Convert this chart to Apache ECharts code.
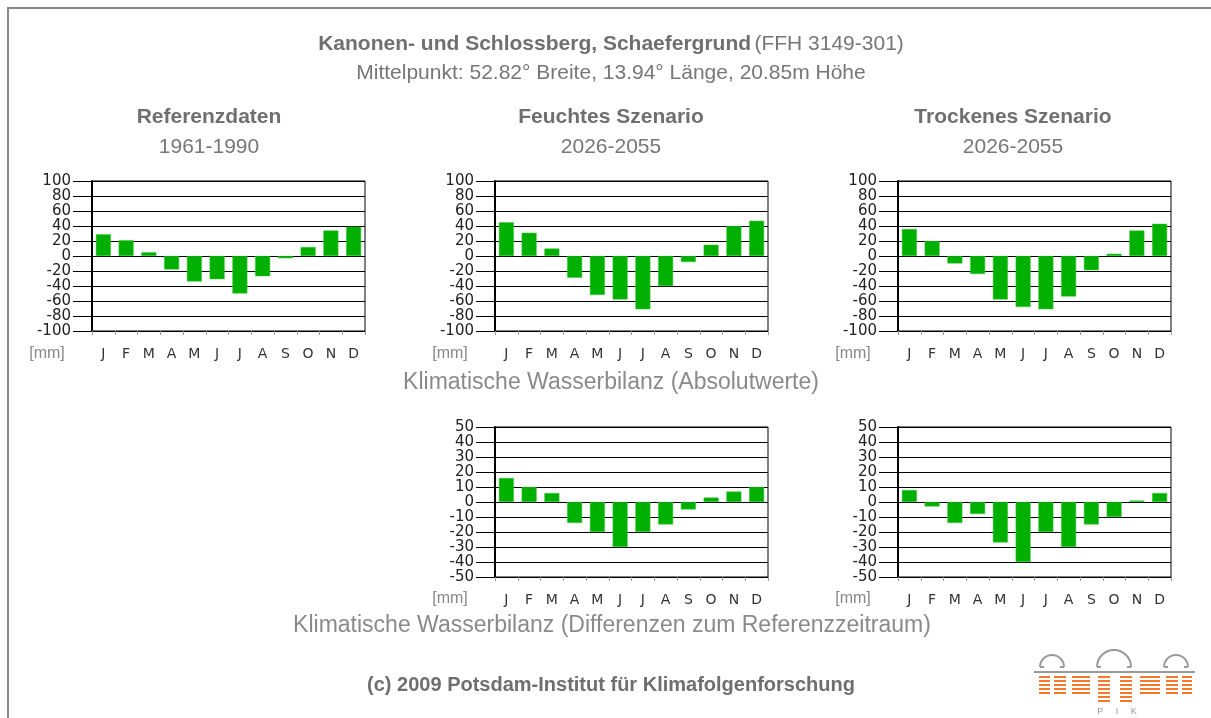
<!DOCTYPE html>
<html><head><meta charset="utf-8">
<script src="https://cdn.jsdelivr.net/npm/echarts@6/dist/echarts.min.js"></script>
<style>html,body{margin:0;padding:0;background:#fff}#c{width:1211px;height:718px}</style>
</head><body><div id="c"></div>
<script>
const months = ['J','F','M','A','M','J','J','A','S','O','N','D'];
const refAbs  = [29, 21, 5, -18, -34, -31, -50, -27, -3, 12, 34, 39];
const wetAbs  = [45, 31, 10, -29, -52, -58, -71, -40, -8, 15, 40, 47];
const dryAbs  = [36, 20, -10, -24, -58, -68, -71, -54, -19, 3, 34, 43];
const wetDiff = [16, 10, 6, -14, -20, -30, -20, -15, -5, 3, 7, 10];
const dryDiff = [8, -3, -14, -8, -27, -40, -20, -30, -15, -10, 1, 6];
const absTicks = [-100, 100, 20];
const diffTicks = [-50, 50, 10];

const FONT = '"Liberation Sans", Arial, sans-serif';
const WIDE = '"DejaVu Sans", sans-serif';
const panels = [
  {data: refAbs,  left: 92,  top: 181, range: absTicks},
  {data: wetAbs,  left: 495, top: 181, range: absTicks},
  {data: dryAbs,  left: 898, top: 181, range: absTicks},
  {data: wetDiff, left: 495, top: 427, range: diffTicks},
  {data: dryDiff, left: 898, top: 427, range: diffTicks}
];
const W = 273, H = 150;

const grid = [], xAxis = [], yAxis = [], series = [];
panels.forEach((p, i) => {
  grid.push({left: p.left, top: p.top, width: W, height: H, show: true, borderColor: '#000', borderWidth: 1, backgroundColor: 'transparent', containLabel: false});
  xAxis.push({type: 'category', gridIndex: i, data: months, boundaryGap: true,
    axisLine: {show: true, onZero: false, lineStyle: {color: '#000', width: 1}},
    axisTick: {show: true, length: 4, lineStyle: {color: '#999'}},
    axisLabel: {margin: 16, fontSize: 14, color: '#333', fontFamily: WIDE, interval: 0}});
  yAxis.push({type: 'value', gridIndex: i, min: p.range[0], max: p.range[1], interval: p.range[2],
    axisLine: {show: true, onZero: false, lineStyle: {color: '#000', width: 2}},
    axisTick: {show: true, inside: false, length: 19, lineStyle: {color: '#000', width: 1}},
    splitLine: {show: true, lineStyle: {color: '#000', width: 1}},
    axisLabel: {margin: 21, fontSize: 15, color: '#222', fontFamily: WIDE, lineHeight: 13}});
  series.push({type: 'bar', xAxisIndex: i, yAxisIndex: i, data: p.data, barWidth: 15,
    itemStyle: {color: '#00b000', borderColor: '#3fc83f', borderWidth: 0.5}, silent: true, animation: false});
});

const gray = '#6f6f6f';
const txt = (x, y, text, size, weight, color) => ({type: 'text', x: x, y: y,
  style: {text: text, font: weight + ' ' + size + 'px ' + FONT, fill: color, textAlign: 'center', textVerticalAlign: 'middle'}});

const graphic = [
  {type: 'polyline', shape: {points: [[8, 718], [8, 8], [1211, 8]]}, style: {stroke: '#888', lineWidth: 2, fill: null}},
  {type: 'text', x: 611, y: 44, style: {
    rich: {b: {font: 'bold 21px ' + FONT, fill: gray}, n: {font: '21px ' + FONT, fill: '#777'}},
    text: '{b|Kanonen- und Schlossberg, Schaefergrund} {n|(FFH 3149-301)}', textAlign: 'center', textVerticalAlign: 'middle'}},
  txt(611, 73, 'Mittelpunkt: 52.82° Breite, 13.94° Länge, 20.85m Höhe', 21, 'normal', '#777'),
  txt(209, 117, 'Referenzdaten', 21, 'bold', gray),
  txt(209, 147, '1961-1990', 21, 'normal', '#777'),
  txt(611, 117, 'Feuchtes Szenario', 21, 'bold', gray),
  txt(611, 147, '2026-2055', 21, 'normal', '#777'),
  txt(1013, 117, 'Trockenes Szenario', 21, 'bold', gray),
  txt(1013, 147, '2026-2055', 21, 'normal', '#777'),
  txt(611, 383, 'Klimatische Wasserbilanz (Absolutwerte)', 23, 'normal', '#8a8a8a'),
  txt(612, 626, 'Klimatische Wasserbilanz (Differenzen zum Referenzzeitraum)', 23, 'normal', '#8a8a8a'),
  txt(611, 685, '(c) 2009 Potsdam-Institut für Klimafolgenforschung', 20, 'bold', gray),
  txt(47, 354, '[mm]', 16, 'normal', '#888'),
  txt(450, 354, '[mm]', 16, 'normal', '#888'),
  txt(853, 354, '[mm]', 16, 'normal', '#888'),
  txt(450, 599, '[mm]', 16, 'normal', '#888'),
  txt(853, 599, '[mm]', 16, 'normal', '#888')
];

// PIK logo (decoration)
const logo = [];
const lg = '#9a9a9a', lo = '#f47a2a';
logo.push({type: 'line', shape: {x1: 1034, y1: 672, x2: 1195, y2: 672}, style: {stroke: lg, lineWidth: 2}});
[[1052, 667, 12], [1114, 667, 17], [1176, 667, 12]].forEach(([cx, cy, r]) => {
  logo.push({type: 'arc', shape: {cx: cx, cy: cy, r: r, startAngle: Math.PI, endAngle: 2 * Math.PI}, style: {stroke: lg, lineWidth: 2, fill: null}});
  logo.push({type: 'line', shape: {x1: cx - r, y1: cy, x2: cx - r + 4, y2: cy}, style: {stroke: lg, lineWidth: 2}});
  logo.push({type: 'line', shape: {x1: cx + r, y1: cy, x2: cx + r - 4, y2: cy}, style: {stroke: lg, lineWidth: 2}});
});
const rows = [677, 681, 685, 689, 693];
rows.forEach((y) => {
  [[1039, 1050], [1054, 1066], [1072, 1090], [1098, 1110], [1120, 1132], [1140, 1160], [1166, 1178], [1182, 1192]].forEach(([a, b]) => {
    logo.push({type: 'line', shape: {x1: a, y1: y, x2: b, y2: y}, style: {stroke: lo, lineWidth: 2}});
  });
});
[697, 701].forEach(y => {
  logo.push({type: 'line', shape: {x1: 1098, y1: y, x2: 1110, y2: y}, style: {stroke: lo, lineWidth: 2}});
  logo.push({type: 'line', shape: {x1: 1120, y1: y, x2: 1132, y2: y}, style: {stroke: lo, lineWidth: 2}});
});
logo.push({type: 'text', x: 1117, y: 712, style: {text: 'P     I     K', font: '9px ' + FONT, fill: '#999', textAlign: 'center', textVerticalAlign: 'middle'}});

const chart = echarts.init(document.getElementById('c'), null, {renderer: 'canvas'});
chart.setOption({
  animation: false,
  backgroundColor: '#fff',
  grid: grid, xAxis: xAxis, yAxis: yAxis, series: series,
  graphic: graphic.concat(logo)
});
</script></body></html>
